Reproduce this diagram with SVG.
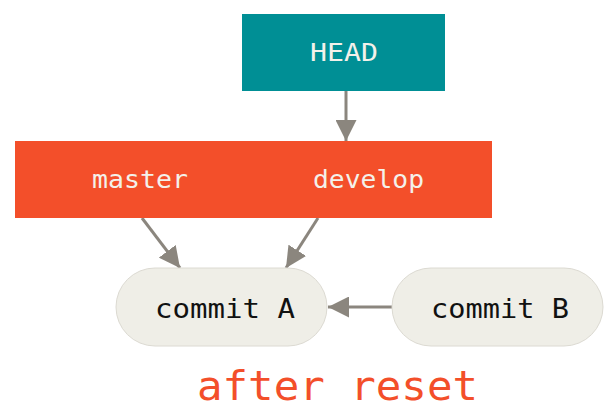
<svg xmlns="http://www.w3.org/2000/svg" width="605" height="416" viewBox="0 0 605 416">
<style>
.lbl{font-family:"DejaVu Sans Mono","Liberation Mono",monospace;font-size:25px;fill:#f3f1ea}
.cm{font-family:"DejaVu Sans Mono","Liberation Mono",monospace;font-size:26px;fill:#111}
.pill{fill:#efeee7;stroke:#dcdad2;stroke-width:1}
.edge{stroke:#8b867e;stroke-width:3;fill:none}
</style>
<defs>
<marker id="ah" viewBox="0 0 10 10" refX="10" refY="5" markerWidth="7" markerHeight="7" markerUnits="strokeWidth" orient="auto">
<path d="M0,0 L10,5 L0,10 z" fill="#8b867e"/>
</marker>
</defs>
<rect width="605" height="416" fill="#fff"/>
<g id="connectors">
<line class="edge" x1="346" y1="91" x2="346" y2="141" marker-end="url(#ah)"/>
<line class="edge" x1="142" y1="218" x2="180" y2="268" marker-end="url(#ah)"/>
<line class="edge" x1="318" y1="218" x2="286" y2="268" marker-end="url(#ah)"/>
<line class="edge" x1="392" y1="307" x2="328" y2="307" marker-end="url(#ah)"/>
</g>
<g id="head">
<rect x="242" y="14" width="203" height="77" fill="#008f95"/>
<text class="lbl" x="310" y="61" textLength="68" lengthAdjust="spacingAndGlyphs">HEAD</text>
</g>
<g id="branches">
<rect x="15" y="141" width="477" height="77" fill="#f34f2a"/>
<text class="lbl" x="92" y="188" textLength="96" lengthAdjust="spacingAndGlyphs">master</text>
<text class="lbl" x="313" y="188" textLength="111" lengthAdjust="spacingAndGlyphs">develop</text>
</g>
<g id="commitA">
<rect class="pill" x="116" y="268" width="211" height="78" rx="39"/>
<text class="cm" x="155" y="318" textLength="140" lengthAdjust="spacingAndGlyphs">commit A</text>
</g>
<g id="commitB">
<rect class="pill" x="392" y="268" width="211" height="78" rx="39"/>
<text class="cm" x="431" y="318" textLength="138" lengthAdjust="spacingAndGlyphs">commit B</text>
</g>
<g id="caption">
<text x="197" y="400" textLength="281" lengthAdjust="spacingAndGlyphs" style="font-family:'DejaVu Sans Mono','Liberation Mono',monospace;font-size:40px;fill:#f34f2a">after reset</text>
</g>
</svg>
